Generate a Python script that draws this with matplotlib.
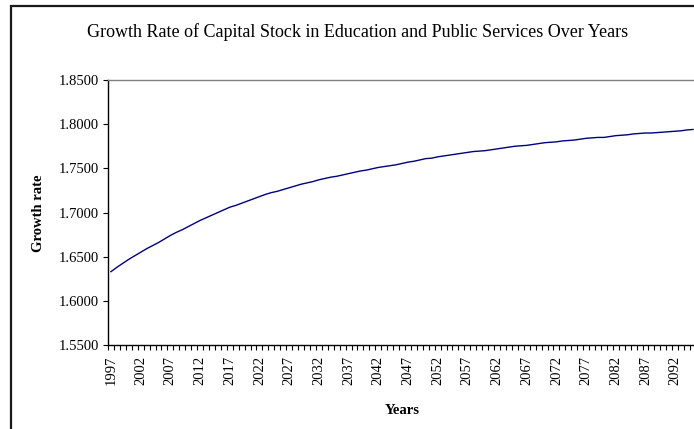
import numpy as np
import matplotlib
matplotlib.use("Agg")
import matplotlib.pyplot as plt
from matplotlib.patches import Rectangle

# =======================
# Data
# =======================
years = list(range(1997, 2096))

growth_rate = [
    1.6330, 1.6380, 1.6425, 1.6470, 1.6510, 1.6550, 1.6590, 1.6625, 1.6660, 1.6700,  # 1997-2006
    1.6740, 1.6775, 1.6805, 1.6840, 1.6875, 1.6910, 1.6940, 1.6970, 1.7000, 1.7030,  # 2007-2016
    1.7060, 1.7080, 1.7105, 1.7130, 1.7155, 1.7180, 1.7205, 1.7225, 1.7240, 1.7260,  # 2017-2026
    1.7280, 1.7300, 1.7320, 1.7335, 1.7350, 1.7370, 1.7385, 1.7400, 1.7410, 1.7425,  # 2027-2036
    1.7440, 1.7455, 1.7470, 1.7480, 1.7495, 1.7510, 1.7520, 1.7530, 1.7540, 1.7555,  # 2037-2046
    1.7570, 1.7580, 1.7595, 1.7610, 1.7615, 1.7630, 1.7640, 1.7650, 1.7660, 1.7670,  # 2047-2056
    1.7680, 1.7690, 1.7695, 1.7700, 1.7710, 1.7720, 1.7730, 1.7740, 1.7750, 1.7755,  # 2057-2066
    1.7760, 1.7770, 1.7780, 1.7790, 1.7795, 1.7800, 1.7810, 1.7815, 1.7820, 1.7830,  # 2067-2076
    1.7840, 1.7845, 1.7850, 1.7850, 1.7860, 1.7870, 1.7875, 1.7880, 1.7890, 1.7895,  # 2077-2086
    1.7900, 1.7900, 1.7905, 1.7910, 1.7915, 1.7920, 1.7925, 1.7935, 1.7940,          # 2087-2095
]

y_ticks = [1.55, 1.60, 1.65, 1.70, 1.75, 1.80, 1.85]
label_step = 5

# =======================
# Figure
# =======================
W, H = 694, 429
plt.rcParams["font.family"] = ["Liberation Serif", "DejaVu Serif"]

fig = plt.figure(figsize=(W / 100, H / 100), dpi=100)
fig.patch.set_facecolor("white")

# chart area border (runs past the right/bottom edge)
fig.patches.append(Rectangle(
    (11 / W, -0.05), (699 - 11) / W, (1 - 6 / H) + 0.05,
    transform=fig.transFigure, fill=False, edgecolor="#1a1a1a",
    linewidth=1.6, clip_on=False
))

ax = fig.add_axes([108 / W, (H - 345) / H, (696 - 108) / W, (345 - 80) / H])

x = np.arange(len(years))
ax.plot(x, growth_rate, color="#000080", linewidth=1.0)

# axes
ax.set_xlim(-0.5, len(years) - 0.5)
ax.set_ylim(y_ticks[0], y_ticks[-1])
ax.set_yticks(y_ticks)
ax.set_yticklabels([f"{v:.4f}" for v in y_ticks], fontsize=10.5)
ax.tick_params(axis="y", direction="out", length=3.5, width=0.8, pad=3, colors="black")

# category tick marks between years, labels every 5 years
ax.set_xticks(np.arange(-0.5, len(years), 1.0), minor=True)
ax.set_xticks(x[::label_step])
ax.set_xticklabels([str(y) for y in years[::label_step]], rotation=90, fontsize=10.5)
ax.tick_params(axis="x", which="major", length=0, pad=8)
ax.tick_params(axis="x", which="minor", direction="out", length=3.5, width=0.8)

for side in ["top", "right"]:
    ax.spines[side].set_color("#808080")
    ax.spines[side].set_linewidth(1.0)
for side in ["left", "bottom"]:
    ax.spines[side].set_color("black")
    ax.spines[side].set_linewidth(1.0)

# titles
fig.text(358 / W, 1 - 32 / H,
         "Growth Rate of Capital Stock in Education and Public Services Over Years",
         ha="center", va="center", fontsize=13)
fig.text(38 / W, 1 - 213 / H, "Growth rate", rotation=90,
         ha="center", va="center", fontsize=10.5, fontweight="bold")
fig.text(402 / W, 1 - 410 / H, "Years",
         ha="center", va="center", fontsize=10.5, fontweight="bold")

fig.savefig("out.png", dpi=100)
